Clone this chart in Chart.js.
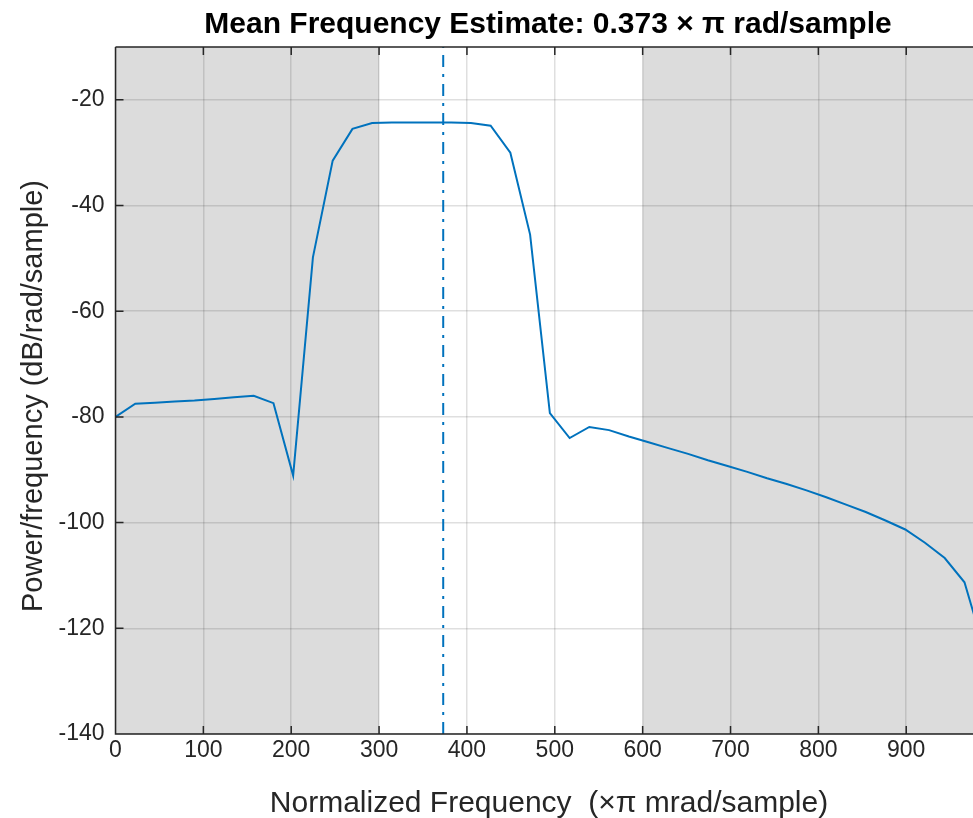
<!DOCTYPE html>
<html>
<head>
<meta charset="utf-8">
<title>Mean Frequency Estimate</title>
<script src="https://cdn.jsdelivr.net/npm/chart.js@4.4.1/dist/chart.umd.min.js"></script>
<style>
    html, body { margin: 0; padding: 0; background: #fff; }
    #wrap { width: 973px; height: 818px; position: relative; overflow: hidden; }
</style>
</head>
<body>
<div id="wrap"><canvas id="psdChart"></canvas></div>
<script>
// --- Data ---
const freqs = [0, 22.5, 44.9, 67.4, 89.9, 112.4, 134.8, 157.3, 179.8, 202.2,
    224.7, 247.2, 269.7, 292.1, 314.6, 337.1, 359.6, 382.0, 404.5, 427.0,
    449.4, 471.9, 494.4, 516.9, 539.3, 561.8, 584.3, 606.7, 629.2, 651.7,
    674.2, 696.6, 719.1, 741.6, 764.0, 786.5, 809.0, 831.5, 853.9, 876.4,
    898.9, 921.3, 943.8, 966.3, 988.8];
const power = [-80.0, -77.5, -77.3, -77.1, -76.9, -76.6, -76.3, -76.0, -77.4, -91.1,
    -49.8, -31.5, -25.5, -24.4, -24.3, -24.3, -24.3, -24.3, -24.4, -24.9,
    -30.0, -45.5, -79.3, -84.0, -81.9, -82.5, -83.7, -84.8, -85.9, -87.0,
    -88.2, -89.3, -90.4, -91.6, -92.7, -93.9, -95.2, -96.6, -98.0, -99.6,
    -101.3, -103.8, -106.7, -111.3, -124.0];
const meanFreq = 373;
const xTicks = [0, 100, 200, 300, 400, 500, 600, 700, 800, 900];
const yTicks = [-140, -120, -100, -80, -60, -40, -20];
const shadedBands = [[0, 300], [600, 1000]];

const X_MIN = 0, X_MAX = 976, Y_MIN = -140, Y_MAX = -10;
const LINE_BLUE = '#0072BD';
const AXIS_COLOR = '#262626';
const GRID_COLOR = 'rgba(38,38,38,0.15)';
const FONT = '"Liberation Sans", Arial, Helvetica, sans-serif';

// --- Shaded bands (under the grid) ---
const bandPlugin = {
    id: 'bands',
    beforeDraw(chart) {
        const { ctx, chartArea, scales } = chart;
        ctx.save();
        ctx.beginPath();
        ctx.rect(chartArea.left, chartArea.top, chartArea.right - chartArea.left, chartArea.bottom - chartArea.top);
        ctx.clip();
        ctx.fillStyle = '#dcdcdc';
        shadedBands.forEach(b => {
            const x0 = scales.x.getPixelForValue(b[0]);
            const x1 = scales.x.getPixelForValue(b[1]);
            ctx.fillRect(x0, chartArea.top, x1 - x0, chartArea.bottom - chartArea.top);
        });
        ctx.restore();
    }
};

// --- Frame, inward ticks, title & axis labels ---
const framePlugin = {
    id: 'frame',
    afterDraw(chart) {
        const { ctx, chartArea, scales } = chart;
        const { left, right, top, bottom } = chartArea;
        ctx.save();
        ctx.strokeStyle = AXIS_COLOR;
        ctx.lineWidth = 1.5;
        ctx.beginPath();
        ctx.moveTo(left, top); ctx.lineTo(right, top);
        ctx.moveTo(left, top); ctx.lineTo(left, bottom);
        ctx.lineTo(right, bottom);
        // inward tick marks
        xTicks.forEach(v => {
            const px = scales.x.getPixelForValue(v);
            ctx.moveTo(px, bottom); ctx.lineTo(px, bottom - 8);
            ctx.moveTo(px, top); ctx.lineTo(px, top + 8);
        });
        yTicks.forEach(v => {
            const py = scales.y.getPixelForValue(v);
            ctx.moveTo(left, py); ctx.lineTo(left + 8, py);
        });
        ctx.stroke();

        ctx.fillStyle = '#000';
        ctx.textAlign = 'center';
        ctx.textBaseline = 'alphabetic';
        ctx.font = 'bold 30px ' + FONT;
        ctx.fillText('Mean Frequency Estimate: 0.373 \u00d7 \u03c0 rad/sample', 548, 33);

        ctx.fillStyle = AXIS_COLOR;
        ctx.font = '30px ' + FONT;
        ctx.fillText('Normalized Frequency  (\u00d7\u03c0 mrad/sample)', 549, 812);

        ctx.translate(42, 396);
        ctx.rotate(-Math.PI / 2);
        ctx.font = '29px ' + FONT;
        ctx.fillText('Power/frequency (dB/rad/sample)', 0, 0);
        ctx.restore();
    }
};

function initChart() {
    const ctx = document.getElementById('psdChart').getContext('2d');
    const points = freqs.map((f, i) => ({ x: f, y: power[i] }));

    new Chart(ctx, {
        type: 'line',
        data: {
            datasets: [{
                data: points,
                borderColor: LINE_BLUE,
                borderWidth: 2,
                pointRadius: 0,
                tension: 0
            }, {
                data: [{ x: meanFreq, y: Y_MIN }, { x: meanFreq, y: Y_MAX }],
                borderColor: LINE_BLUE,
                borderWidth: 2,
                borderDash: [12, 7, 3, 7],
                pointRadius: 0
            }]
        },
        options: {
            responsive: true,
            maintainAspectRatio: false,
            animation: false,
            layout: { padding: { top: 47, right: 0, left: 0, bottom: 0 } },
            plugins: { legend: { display: false }, tooltip: { enabled: false } },
            scales: {
                x: {
                    type: 'linear',
                    min: X_MIN,
                    max: X_MAX,
                    afterBuildTicks: s => { s.ticks = xTicks.map(v => ({ value: v })); },
                    afterFit: s => { s.height = 84; },
                    grid: { color: GRID_COLOR, lineWidth: 1.5, drawTicks: false },
                    border: { display: false },
                    ticks: { color: AXIS_COLOR, font: { family: FONT, size: 23 }, padding: 3, maxRotation: 0 }
                },
                y: {
                    type: 'linear',
                    min: Y_MIN,
                    max: Y_MAX,
                    afterBuildTicks: s => { s.ticks = yTicks.map(v => ({ value: v })); },
                    afterFit: s => { s.width = 115.5; },
                    grid: { color: GRID_COLOR, lineWidth: 1.5, drawTicks: false },
                    border: { display: false },
                    ticks: { color: AXIS_COLOR, font: { family: FONT, size: 23 }, padding: 11 }
                }
            }
        },
        plugins: [bandPlugin, framePlugin]
    });
}

window.addEventListener('DOMContentLoaded', initChart);
</script>
</body>
</html>
